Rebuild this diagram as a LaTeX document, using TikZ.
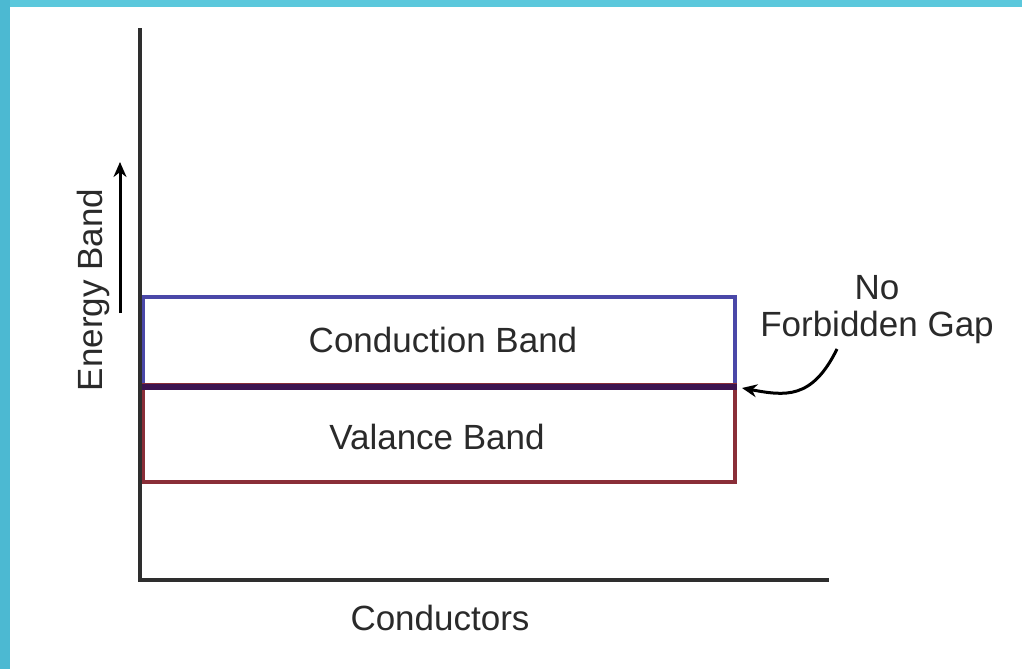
\documentclass[tikz,border=0pt]{standalone}
\usepackage{fontspec}
\setmainfont{Liberation Sans}
\usetikzlibrary{arrows.meta}
\definecolor{frame}{HTML}{5BC8DC}
\definecolor{frameL}{HTML}{4CB9D2}
\definecolor{axis}{HTML}{2E2E2E}
\definecolor{cband}{HTML}{4A48A8}
\definecolor{mid}{HTML}{3C1450}
\definecolor{vband}{HTML}{8A2E38}
\definecolor{ink}{HTML}{2A2A2A}
\tikzset{
  label/.style={font=\fontsize{35}{37}\selectfont, text=ink, inner sep=0pt},
  bandbox/.style={rectangle, minimum width=592pt, inner sep=0pt, line width=3.5pt},
  axisline/.style={draw=axis, line width=4.5pt, line cap=rect},
  pointer/.style={draw=black, line width=3pt, -{Stealth[length=15pt,width=13pt]}}
}
\begin{document}
\begin{tikzpicture}[x=1pt,y=-1pt]
  % page and frame
  \fill[white] (0,0) rectangle (1022,669);
  \useasboundingbox (0,0) rectangle (1022,669);
  \fill[frame] (0,0) rectangle (1022,7);
  \fill[frameL] (0,0) rectangle (10,669);

  % energy bands
  \node[bandbox, draw=cband, minimum height=88pt] (cb) at (439,341) {};
  \node[bandbox, draw=vband, minimum height=97pt] (vb) at (439,433.5) {};
  \draw[draw=mid, line width=6pt] (cb.south west) -- (cb.south east);

  \node[label] (cbt) at (443,340) {Conduction Band};
  \node[label] (vbt) at (437,437) {Valance Band};

  % axes
  \coordinate (top) at (140,30);
  \coordinate (origin) at (140,580);
  \coordinate (right) at (827,580);
  \draw[axisline] (top) -- (origin) -- (right);

  \node[label] (xlab) at (440,618) {Conductors};
  \node[label, rotate=90] (ylab) at (93,290) {Energy Band};
  \coordinate (eb0) at (120,313);
  \coordinate (eb1) at (120,162);
  \draw[line width=3pt, draw=black, -{Stealth[length=15pt,width=13pt]}] (eb0) -- (eb1);

  % gap annotation
  \node[label, align=center] (gap) at (877,310) {No\\Forbidden Gap};
  \coordinate (g0) at (837,349);
  \coordinate (g1) at (742,388);
  \draw[pointer] (g0) .. controls (812,400) and (785,396) .. (g1);
\end{tikzpicture}
\end{document}
